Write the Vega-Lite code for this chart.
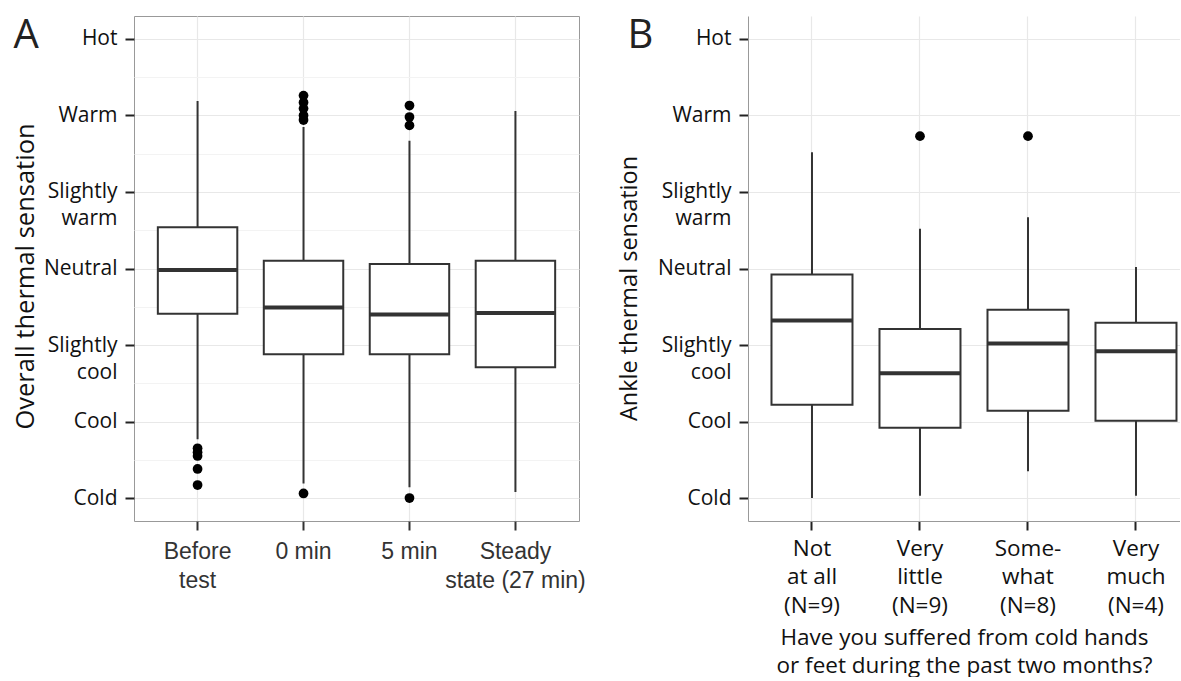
{
  "$schema": "https://vega.github.io/schema/vega-lite/v6.json",
  "padding": {"left": 12, "top": 14, "right": 0, "bottom": 0},
  "background": "white",
  "datasets": {
    "boxA": [
      {"cond": "Before test", "lower": -2.23, "q1": -0.59, "median": -0.02, "q3": 0.54, "upper": 2.19},
      {"cond": "0 min", "lower": -2.81, "q1": -1.12, "median": -0.51, "q3": 0.10, "upper": 1.85},
      {"cond": "5 min", "lower": -2.86, "q1": -1.12, "median": -0.60, "q3": 0.06, "upper": 1.67},
      {"cond": "Steady state (27 min)", "lower": -2.92, "q1": -1.29, "median": -0.58, "q3": 0.10, "upper": 2.06}
    ],
    "outA": [
      {"cond": "Before test", "value": -2.35},
      {"cond": "Before test", "value": -2.40},
      {"cond": "Before test", "value": -2.45},
      {"cond": "Before test", "value": -2.62},
      {"cond": "Before test", "value": -2.83},
      {"cond": "0 min", "value": 2.26},
      {"cond": "0 min", "value": 2.17},
      {"cond": "0 min", "value": 2.09},
      {"cond": "0 min", "value": 2.00},
      {"cond": "0 min", "value": 1.94},
      {"cond": "0 min", "value": -2.94},
      {"cond": "5 min", "value": 2.13},
      {"cond": "5 min", "value": 1.98},
      {"cond": "5 min", "value": 1.87},
      {"cond": "5 min", "value": -3.00}
    ],
    "boxB": [
      {"answer": "Not at all", "lower": -3.0, "q1": -1.78, "median": -0.68, "q3": -0.08, "upper": 1.52},
      {"answer": "Very little", "lower": -2.97, "q1": -2.08, "median": -1.37, "q3": -0.79, "upper": 0.52},
      {"answer": "Somewhat", "lower": -2.65, "q1": -1.86, "median": -0.98, "q3": -0.54, "upper": 0.67},
      {"answer": "Very much", "lower": -2.97, "q1": -1.99, "median": -1.08, "q3": -0.71, "upper": 0.02}
    ],
    "outB": [
      {"answer": "Very little", "value": 1.73},
      {"answer": "Somewhat", "value": 1.73}
    ]
  },
  "hconcat": [
    {
      "width": 445,
      "height": 505,
      "encoding": {
        "x": {
          "field": "cond", "type": "nominal", "title": "A",
          "scale": {"domain": ["Before test", "0 min", "5 min", "Steady state (27 min)"], "paddingInner": 0.25, "paddingOuter": 0.225, "round": false},
          "axis": {
            "labelExpr": "datum.label == 'Before test' ? ['Before', 'test'] : datum.label == 'Steady state (27 min)' ? ['Steady', 'state (27 min)'] : datum.label",
            "labelFont": "Liberation Sans", "labelFontSize": 23, "labelColor": "#333", "labelLineHeight": 29,
            "labelAngle": 0, "labelPadding": 10, "labelBaseline": "top",
            "tickSize": 9, "tickWidth": 2, "tickColor": "#333",
            "domain": false, "grid": true, "gridColor": "#e8e8e8", "gridWidth": 1.2,
            "titleX": -121, "titleY": -474, "titleAngle": 0, "titleAlign": "left", "titleBaseline": "alphabetic",
            "titleFont": "Open Sans", "titleFontSize": 40, "titleFontWeight": "normal", "titleColor": "#222"
          }
        }
      },
      "layer": [
        {
          "data": {"name": "boxA"},
          "mark": {"type": "rule", "stroke": "#333", "strokeWidth": 2},
          "encoding": {
            "y": {
              "field": "lower", "type": "quantitative", "title": "Overall thermal sensation",
              "scale": {"domain": [-3.3, 3.3], "nice": false, "zero": false},
              "axis": {
                "values": [-3, -2.5, -2, -1.5, -1, -0.5, 0, 0.5, 1, 1.5, 2, 2.5, 3],
                "labelExpr": "datum.value == 3 ? 'Hot' : datum.value == 2 ? 'Warm' : datum.value == 1 ? ['Slightly', 'warm'] : datum.value == 0 ? 'Neutral' : datum.value == -1 ? ['Slightly', 'cool'] : datum.value == -2 ? 'Cool' : datum.value == -3 ? 'Cold' : ''",
                "labelFont": "Open Sans", "labelFontSize": 21, "labelColor": "#111", "labelLineHeight": 27, "labelPadding": 8,
                "tickSize": 9, "tickWidth": 2, "tickColor": "#222",
                "tickOpacity": {"condition": {"test": "datum.value % 1 != 0", "value": 0}, "value": 1},
                "domain": false, "grid": true,
                "gridColor": {"condition": {"test": "datum.value % 1 != 0", "value": "#f3f3f3"}, "value": "#e8e8e8"},
                "gridWidth": 1.2,
                "titleFont": "Open Sans", "titleFontSize": 25.5, "titleFontWeight": "normal", "titleColor": "#111",
                "titleX": -101, "titleY": 260, "titleAngle": -90, "titleAlign": "center", "titleBaseline": "alphabetic"
              }
            },
            "y2": {"field": "upper"}
          }
        },
        {
          "data": {"name": "boxA"},
          "mark": {"type": "bar", "fill": "white", "stroke": "#333", "strokeWidth": 2, "width": {"band": 1}},
          "encoding": {
            "y": {"field": "q1", "type": "quantitative", "title": "Overall thermal sensation"},
            "y2": {"field": "q3"}
          }
        },
        {
          "data": {"name": "boxA"},
          "mark": {"type": "tick", "color": "#333", "thickness": 4, "size": 80, "opacity": 1},
          "encoding": {
            "y": {"field": "median", "type": "quantitative", "title": "Overall thermal sensation"}
          }
        },
        {
          "data": {"name": "outA"},
          "mark": {"type": "circle", "color": "black", "size": 95, "opacity": 1},
          "encoding": {
            "y": {"field": "value", "type": "quantitative", "title": "Overall thermal sensation"}
          }
        }
      ]
    },
    {
      "width": 432,
      "height": 505,
      "view": {"stroke": null},
      "resolve": {"axis": {"x": "independent"}},
      "layer": [
        {
          "data": {"name": "boxB"},
          "mark": {"type": "rule", "stroke": "#333", "strokeWidth": 2},
          "encoding": {
            "x": {
              "field": "answer", "type": "nominal",
              "title": ["Have you suffered from cold hands", "or feet during the past two months?"],
              "scale": {"domain": ["Not at all", "Very little", "Somewhat", "Very much"], "paddingInner": 0.25, "paddingOuter": 0.125, "align": 0.87, "round": false},
              "axis": {
                "labelExpr": "datum.label == 'Not at all' ? ['Not', 'at all', '(N=9)'] : datum.label == 'Very little' ? ['Very', 'little', '(N=9)'] : datum.label == 'Somewhat' ? ['Some-', 'what', '(N=8)'] : ['Very', 'much', '(N=4)']",
                "labelFont": "Open Sans", "labelFontSize": 22.5, "labelColor": "#111", "labelLineHeight": 28.5,
                "labelAngle": 0, "labelPadding": 7, "labelBaseline": "top",
                "tickSize": 9, "tickWidth": 2, "tickColor": "#222",
                "domain": true, "domainColor": "#999", "domainWidth": 1,
                "grid": true, "gridColor": "#e8e8e8", "gridWidth": 1.2,
                "titleFont": "Open Sans", "titleFontSize": 22.5, "titleFontWeight": "normal", "titleColor": "#111", "titleLineHeight": 28, "titlePadding": 10
              }
            },
            "y": {
              "field": "lower", "type": "quantitative", "title": "Ankle thermal sensation",
              "scale": {"domain": [-3.3, 3.3], "nice": false, "zero": false},
              "axis": {
                "values": [-3, -2.5, -2, -1.5, -1, -0.5, 0, 0.5, 1, 1.5, 2, 2.5, 3, 3.3],
                "labelExpr": "datum.value == 3 ? 'Hot' : datum.value == 2 ? 'Warm' : datum.value == 1 ? ['Slightly', 'warm'] : datum.value == 0 ? 'Neutral' : datum.value == -1 ? ['Slightly', 'cool'] : datum.value == -2 ? 'Cool' : datum.value == -3 ? 'Cold' : ''",
                "labelFont": "Open Sans", "labelFontSize": 21, "labelColor": "#111", "labelLineHeight": 27, "labelPadding": 8,
                "tickSize": 9, "tickWidth": 2, "tickColor": "#222",
                "tickOpacity": {"condition": {"test": "datum.value % 1 != 0", "value": 0}, "value": 1},
                "domain": true, "domainColor": "#999", "domainWidth": 1,
                "grid": true,
                "gridColor": {"condition": [{"test": "datum.value > 3.2", "value": "#999"}, {"test": "datum.value % 1 != 0", "value": "#f3f3f3"}], "value": "#e8e8e8"},
                "gridWidth": 1.2,
                "titleFont": "Open Sans", "titleFontSize": 23.5, "titleFontWeight": "normal", "titleColor": "#111",
                "titleX": -112, "titleY": 272, "titleAngle": -90, "titleAlign": "center", "titleBaseline": "alphabetic"
              }
            },
            "y2": {"field": "upper"}
          }
        },
        {
          "data": {"name": "boxB"},
          "mark": {"type": "bar", "fill": "white", "stroke": "#333", "strokeWidth": 2, "width": {"band": 1}},
          "encoding": {
            "x": {
              "field": "answer", "type": "nominal", "title": "B",
              "axis": {
                "orient": "top", "labels": false, "ticks": false, "domain": false, "grid": false,
                "titleX": -121, "titleY": 31, "titleAngle": 0, "titleAlign": "left", "titleBaseline": "alphabetic",
                "titleFont": "Open Sans", "titleFontSize": 40, "titleFontWeight": "normal", "titleColor": "#222"
              }
            },
            "y": {"field": "q1", "type": "quantitative", "title": "Ankle thermal sensation"},
            "y2": {"field": "q3"}
          }
        },
        {
          "data": {"name": "boxB"},
          "mark": {"type": "tick", "color": "#333", "thickness": 4, "size": 81, "opacity": 1},
          "encoding": {
            "x": {"field": "answer", "type": "nominal", "axis": null},
            "y": {"field": "median", "type": "quantitative", "title": "Ankle thermal sensation"}
          }
        },
        {
          "data": {"name": "outB"},
          "mark": {"type": "circle", "color": "black", "size": 95, "opacity": 1},
          "encoding": {
            "x": {"field": "answer", "type": "nominal", "axis": null},
            "y": {"field": "value", "type": "quantitative", "title": "Ankle thermal sensation"}
          }
        }
      ]
    }
  ],
  "spacing": 169,
  "bounds": "flush",
  "config": {
    "view": {"stroke": "#999", "strokeWidth": 1},
    "font": "Open Sans"
  }
}
